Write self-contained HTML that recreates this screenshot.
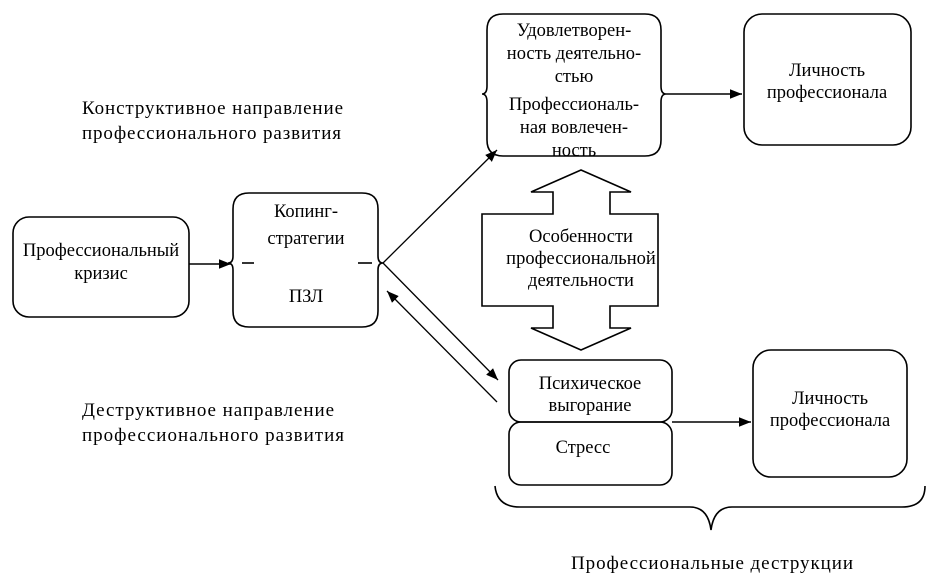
<!DOCTYPE html>
<html><head><meta charset="utf-8"><style>
html,body{margin:0;padding:0;background:#fff;}
svg{display:block;}
text{font-family:"Liberation Serif","DejaVu Serif",serif;font-size:18.5px;fill:#000;}
.l{font-size:19px;}
</style></head><body>
<svg width="939" height="586" viewBox="0 0 939 586" xmlns="http://www.w3.org/2000/svg">
<defs>
<marker id="a" viewBox="0 0 10 10" refX="10" refY="5" markerWidth="12" markerHeight="12" markerUnits="userSpaceOnUse" orient="auto"><path d="M0,1 L10,5 L0,9 z" fill="#000"/></marker>
</defs>
<g fill="none" stroke="#000" stroke-width="1.6">
<rect x="13" y="217" width="176" height="100" rx="16"/>
<path d="M249,193 H362 Q378,193 378,209 V256 Q378,263 383,263 Q378,263 378,270 V311 Q378,327 362,327 H249 Q233,327 233,311 V270 Q233,263 228,263 Q233,263 233,256 V209 Q233,193 249,193 Z"/>
<line x1="242" y1="263" x2="254" y2="263"/>
<line x1="358" y1="263" x2="372" y2="263"/>
<path d="M503,14 H645 Q661,14 661,30 V86 Q661,94 666,94 Q661,94 661,102 V140 Q661,156 645,156 H503 Q487,156 487,140 V102 Q487,94 482,94 Q487,94 487,86 V30 Q487,14 503,14 Z"/>
<rect x="509" y="360" width="163" height="62" rx="12"/>
<rect x="509" y="422" width="163" height="63" rx="12"/>
<rect x="744" y="14" width="167" height="131" rx="18"/>
<rect x="753" y="350" width="154" height="127" rx="18"/>
<path d="M581,170 L631,192 H610 V214 H658 V306 H610 V328 H631 L581,350 L531,328 H553 V306 H482 V214 H553 V192 H531 Z"/>
<path d="M495,486 Q497,507 520,507 H690 Q708,507 711,530 Q714,507 732,507 H902 Q925,507 925,486"/>
<line x1="189" y1="264" x2="231" y2="264" marker-end="url(#a)"/>
<line x1="666" y1="94" x2="742" y2="94" marker-end="url(#a)"/>
<line x1="672" y1="422" x2="751" y2="422" marker-end="url(#a)"/>
<line x1="383" y1="263" x2="497" y2="150" marker-end="url(#a)" stroke-width="1.3"/>
<line x1="383" y1="263" x2="498" y2="380" marker-end="url(#a)" stroke-width="1.3"/>
<line x1="497" y1="402" x2="387" y2="291" marker-end="url(#a)" stroke-width="1.3"/>
</g>
<text class="l" x="82" y="114" textLength="261" lengthAdjust="spacing">Конструктивное направление</text>
<text class="l" x="82" y="139" textLength="259" lengthAdjust="spacing">профессионального развития</text>
<text class="l" x="82" y="416" textLength="252" lengthAdjust="spacing">Деструктивное направление</text>
<text class="l" x="82" y="441" textLength="262" lengthAdjust="spacing">профессионального развития</text>
<text class="l" x="571" y="569" textLength="282" lengthAdjust="spacing">Профессиональные деструкции</text>
<g text-anchor="middle">
<text x="101" y="256">Профессиональный</text>
<text x="101" y="279">кризис</text>
<text x="306" y="217">Копинг-</text>
<text x="306" y="244">стратегии</text>
<text x="306" y="302">ПЗЛ</text>
<text x="574" y="36">Удовлетворен-</text>
<text x="574" y="59">ность деятельно-</text>
<text x="574" y="82">стью</text>
<text x="574" y="110">Профессиональ-</text>
<text x="574" y="133">ная вовлечен-</text>
<text x="574" y="156">ность</text>
<text x="827" y="76">Личность</text>
<text x="827" y="98">профессионала</text>
<text x="581" y="242">Особенности</text>
<text x="581" y="264">профессиональной</text>
<text x="581" y="286">деятельности</text>
<text x="590" y="389">Психическое</text>
<text x="590" y="411">выгорание</text>
<text x="583" y="453">Стресс</text>
<text x="830" y="404">Личность</text>
<text x="830" y="426">профессионала</text>
</g>
</svg>
</body></html>
